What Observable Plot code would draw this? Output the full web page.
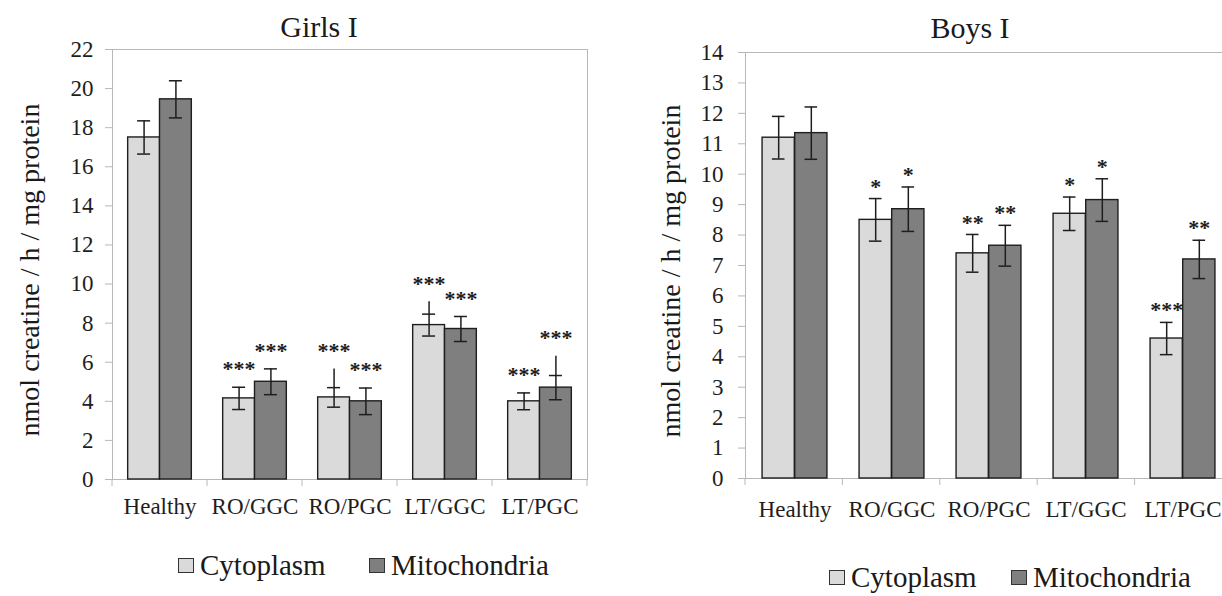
<!DOCTYPE html>
<html><head><meta charset="utf-8">
<script src="https://cdn.jsdelivr.net/npm/d3@7"></script>
<script src="https://cdn.jsdelivr.net/npm/@observablehq/plot@0.6"></script>
<style>
body{margin:0;background:#fff;}
#wrap{position:relative;width:1222px;height:596px;overflow:hidden;background:#fff;font-family:"Liberation Serif","Times New Roman",serif;color:#1a1a1a;}
.panel{position:absolute;top:0;}
.title{position:absolute;font-family:"Liberation Serif",serif;font-size:30px;line-height:1;white-space:nowrap;transform:translateX(-50%);}
.ylab{position:absolute;font-family:"Liberation Serif",serif;font-size:28px;line-height:1;white-space:nowrap;transform:translate(-50%,-50%) rotate(-90deg);}
.leg{position:absolute;display:flex;align-items:center;font-family:"Liberation Serif",serif;font-size:29px;line-height:1.1;white-space:nowrap;}
.sw{width:14px;height:13px;border:1px solid #333;margin-right:6px;}
</style></head>
<body><div id="wrap"></div>
<script>
// ---- data ----
const categories = ["Healthy", "RO/GGC", "RO/PGC", "LT/GGC", "LT/PGC"];
const seriesNames = ["Cytoplasm", "Mitochondria"];

const girlsCyto    = [17.5, 4.15, 4.2, 7.9, 4.0];
const girlsCytoErr = [0.85, 0.57, 0.5, 0.56, 0.43];
const girlsCytoExt = [null, null, 5.65, 9.1, null];
const girlsCytoSig = ["", "***", "***", "***", "***"];
const girlsMito    = [19.45, 5.0, 4.0, 7.7, 4.7];
const girlsMitoErr = [0.95, 0.66, 0.68, 0.64, 0.62];
const girlsMitoExt = [null, null, null, null, 6.3];
const girlsMitoSig = ["", "***", "***", "***", "***"];

const boysCyto    = [11.2, 8.5, 7.4, 8.7, 4.6];
const boysCytoErr = [0.7, 0.7, 0.62, 0.55, 0.53];
const boysCytoExt = [null, null, null, null, null];
const boysCytoSig = ["", "*", "**", "*", "***"];
const boysMito    = [11.35, 8.85, 7.65, 9.15, 7.2];
const boysMitoErr = [0.86, 0.73, 0.67, 0.7, 0.63];
const boysMitoExt = [null, null, null, null, null];
const boysMitoSig = ["", "*", "**", "*", "**"];

const girlsYTicks = d3.range(0, 23, 2);
const boysYTicks = d3.range(0, 15, 1);

const titles = ["Girls I", "Boys I"];
const yLabel = "nmol creatine / h / mg protein";

// ---- styles ----
const fills = {Cytoplasm: "#dadada", Mitochondria: "#7f7f7f"};
const ink = "#1e1e1e";
const axisGray = "#b8b8b8";
const FONT = "Liberation Serif, serif";

function panel(o) {
  const rows = categories.flatMap((c, i) => [
    {cat: c, series: "Cytoplasm", value: o.cyto[i], err: o.cytoErr[i], ext: o.cytoExt[i], sig: o.cytoSig[i]},
    {cat: c, series: "Mitochondria", value: o.mito[i], err: o.mitoErr[i], ext: o.mitoExt[i], sig: o.mitoSig[i]}
  ]);
  const band = (o.width - o.marginLeft - o.marginRight) / categories.length;
  const outer = band * 0.165, barW = band * 0.335, capHalf = 6.5;
  const geo = {
    Cytoplasm: {l: outer, r: band - outer - barW},
    Mitochondria: {l: outer + barW, r: outer}
  };
  const marks = [
    Plot.frame({stroke: axisGray}),
    (index, scales, values, dims) => {
      const g = d3.create("svg:g").attr("stroke", axisGray);
      const bw = (dims.width - dims.marginLeft - dims.marginRight) / categories.length;
      const y0 = dims.height - dims.marginBottom;
      const edges = d3.range(categories.length + 1).map(i => dims.marginLeft + i * bw);
      g.selectAll("line").data(edges).join("line")
        .attr("x1", d => d).attr("x2", d => d).attr("y1", y0).attr("y2", y0 + 7);
      return g.node();
    },
    Plot.axisY({ticks: o.yTicks, tickSize: 7, tickPadding: o.tickPadding, stroke: axisGray, fill: ink, fontSize: 23, fontFamily: FONT, label: null}),
    Plot.axisX({tickSize: 0, tickPadding: o.xPad, fill: ink, fontSize: 23, fontFamily: FONT, label: null})
  ];
  for (const s of seriesNames) {
    const data = rows.filter(d => d.series === s);
    const g = geo[s];
    const center = g.l + barW / 2;
    const top = d => Math.max(d.value + d.err, d.ext ?? 0);
    marks.push(Plot.barY(data, {x: "cat", y: "value", fill: fills[s], stroke: ink, strokeWidth: 1.4, insetLeft: g.l, insetRight: g.r}));
    marks.push(Plot.ruleX(data, {x: "cat", y1: d => d.value - d.err, y2: top, dx: center - band / 2, stroke: ink, strokeWidth: 1.5}));
    marks.push(Plot.tickY(data, {x: "cat", y: d => d.value + d.err, insetLeft: center - capHalf, insetRight: band - center - capHalf, stroke: ink, strokeWidth: 1.5}));
    marks.push(Plot.tickY(data, {x: "cat", y: d => d.value - d.err, insetLeft: center - capHalf, insetRight: band - center - capHalf, stroke: ink, strokeWidth: 1.5}));
    marks.push(Plot.text(data.filter(d => d.sig), {x: "cat", y: top, text: "sig", dx: center - band / 2, dy: -o.starGap, fontSize: 22, fontWeight: "bold", fontFamily: FONT, fill: ink, lineAnchor: "middle"}));
  }
  return Plot.plot({
    width: o.width, height: o.height,
    marginLeft: o.marginLeft, marginRight: o.marginRight, marginTop: o.marginTop, marginBottom: o.marginBottom,
    x: {domain: categories, padding: 0, axis: null},
    y: {domain: [0, o.yMax], axis: null},
    style: {fontFamily: FONT, background: "transparent", overflow: "visible", color: ink},
    marks
  });
}

const wrap = document.getElementById("wrap");

function place(node, left) {
  node.classList.add("panel");
  node.style.left = left + "px";
  wrap.appendChild(node);
}

place(panel({
  cyto: girlsCyto, cytoErr: girlsCytoErr, cytoExt: girlsCytoExt, cytoSig: girlsCytoSig,
  mito: girlsMito, mitoErr: girlsMitoErr, mitoExt: girlsMitoExt, mitoSig: girlsMitoSig,
  yMax: 22, yTicks: girlsYTicks, width: 610, height: 530,
  marginLeft: 112, marginRight: 23, marginTop: 49, marginBottom: 51,
  tickPadding: 12, xPad: 18, starGap: 18
}), 0);

place(panel({
  cyto: boysCyto, cytoErr: boysCytoErr, cytoExt: boysCytoExt, cytoSig: boysCytoSig,
  mito: boysMito, mitoErr: boysMitoErr, mitoExt: boysMitoExt, mitoSig: boysMitoSig,
  yMax: 14, yTicks: boysYTicks, width: 640, height: 530,
  marginLeft: 135, marginRight: 18, marginTop: 52, marginBottom: 52,
  tickPadding: 15, xPad: 22, starGap: 12
}), 610);

function addDiv(cls, text, styles) {
  const d = document.createElement("div");
  d.className = cls;
  d.textContent = text;
  Object.assign(d.style, styles);
  wrap.appendChild(d);
  return d;
}
addDiv("title", titles[0], {left: "319px", top: "12px"});
addDiv("title", titles[1], {left: "970px", top: "13px"});
addDiv("ylab", yLabel, {left: "30px", top: "270px"});
addDiv("ylab", yLabel, {left: "671px", top: "271px"});

function legendItem(name, left, top) {
  const d = document.createElement("div");
  d.className = "leg";
  d.style.left = left + "px";
  d.style.top = top + "px";
  const sw = document.createElement("div");
  sw.className = "sw";
  sw.style.background = fills[name];
  const t = document.createElement("span");
  t.textContent = name;
  d.appendChild(sw); d.appendChild(t);
  wrap.appendChild(d);
}
legendItem(seriesNames[0], 178, 550);
legendItem(seriesNames[1], 369, 550);
legendItem(seriesNames[0], 829, 562);
legendItem(seriesNames[1], 1011, 562);
</script>
</body></html>
